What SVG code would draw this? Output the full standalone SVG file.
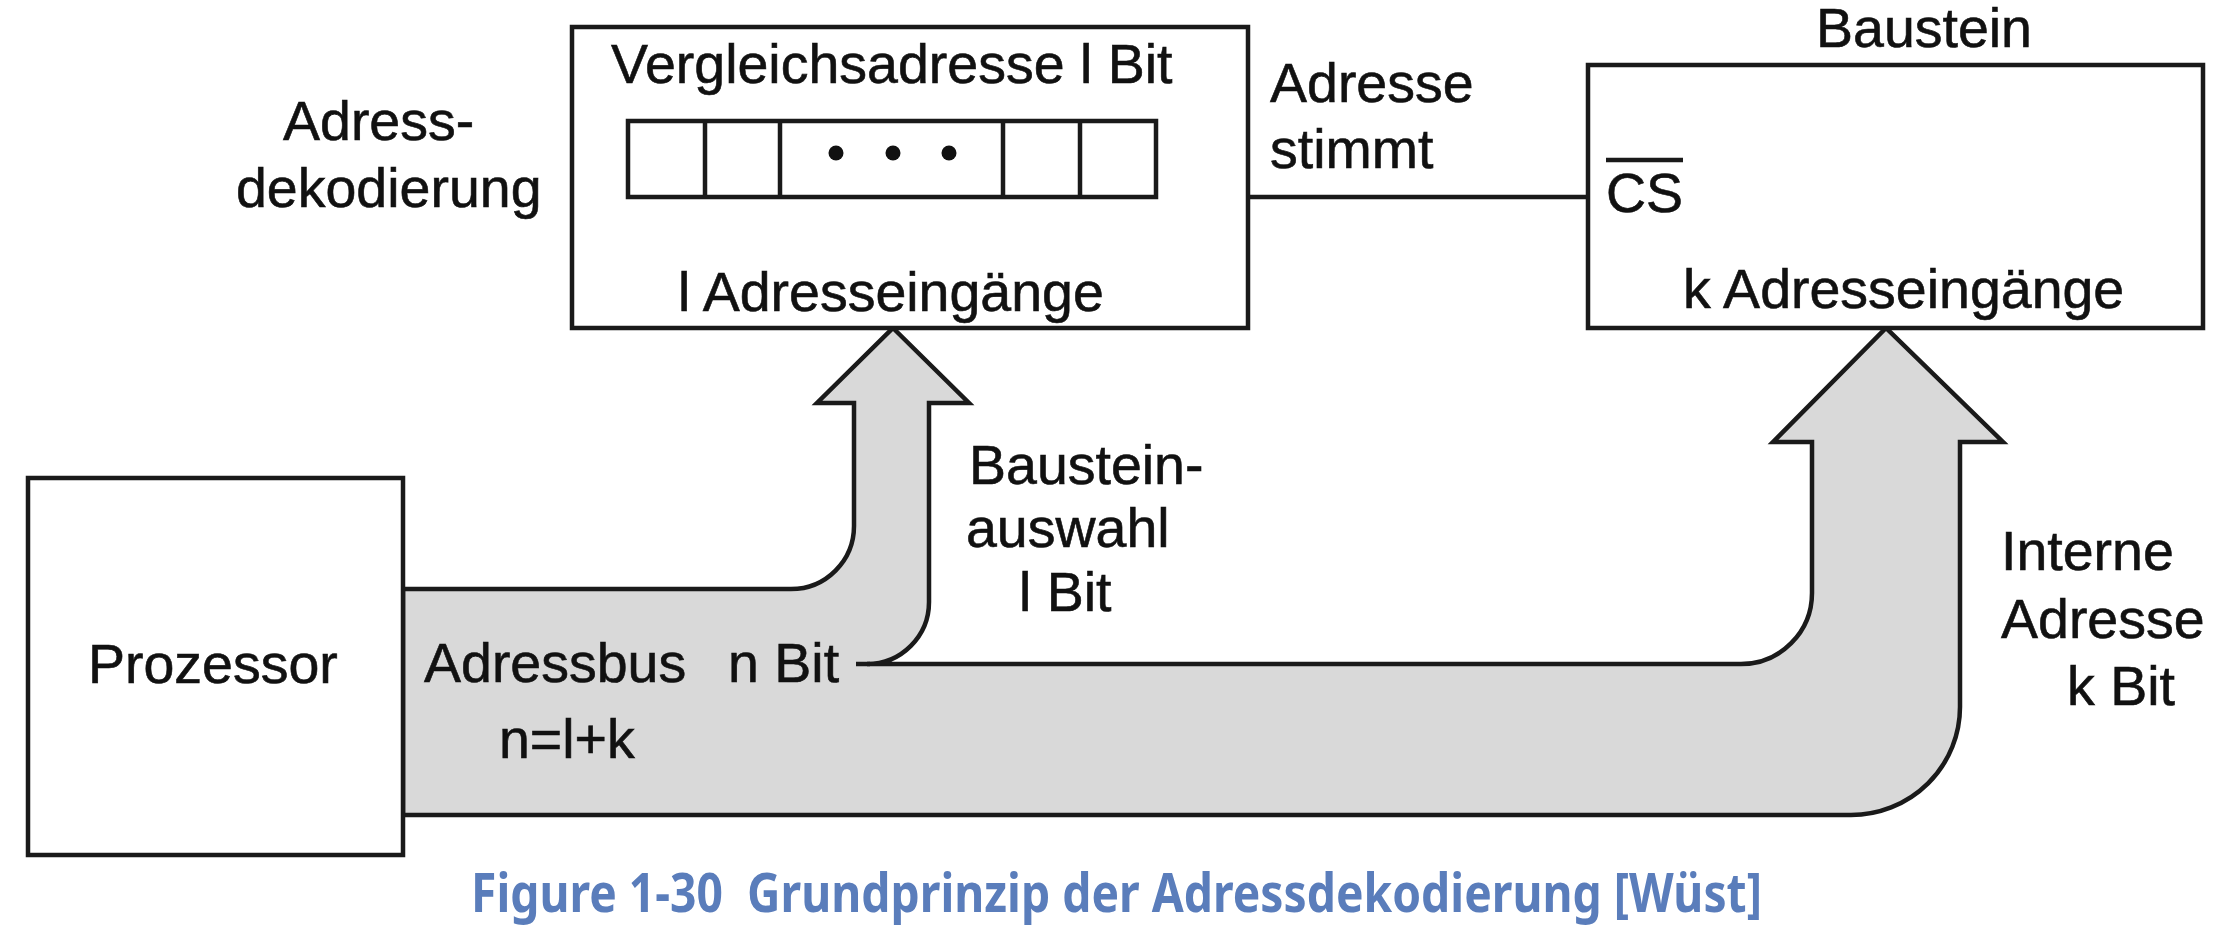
<svg xmlns="http://www.w3.org/2000/svg" width="2218" height="933" viewBox="0 0 2218 933">
<style>
.box{fill:#fff;stroke:#1a1a1a;stroke-width:4.5}
.ln{fill:none;stroke:#1a1a1a;stroke-width:4.5}
.t{font-family:"Liberation Sans",Arial,Helvetica,sans-serif;font-size:55.5px;fill:#111;stroke:#111;stroke-width:0.6}
.cap{font-family:"Noto Sans","Open Sans",sans-serif;font-weight:bold;font-size:53px;fill:#5A7DBB}
</style>
<rect width="2218" height="933" fill="#fff"/>
<g id="connectors">
<path d="M893,328 L969,403 L929,403 L929,602 A62 62 0 0 1 867,664 L1741,664 A71 71 0 0 0 1812,593 L1812,442 L1773,442 L1886,328 L2003,442 L1960,442 L1960,707 A109 108 0 0 1 1851,815 L403,815 L403,589 L791,589 A63 63 0 0 0 854,526 L854,403 L817,403 Z" fill="#d9d9d9" stroke="#1a1a1a" stroke-width="4.5" stroke-linejoin="miter"/>
<line class="ln" x1="856" y1="664" x2="870" y2="664"/>
<line class="ln" x1="1248" y1="197" x2="1588" y2="197"/>
</g>
<g id="decoder">
<rect class="box" x="572" y="27" width="676" height="301"/>
<rect class="box" x="628" y="121" width="528" height="76"/>
<line class="ln" x1="705" y1="121" x2="705" y2="197"/>
<line class="ln" x1="780" y1="121" x2="780" y2="197"/>
<line class="ln" x1="1003" y1="121" x2="1003" y2="197"/>
<line class="ln" x1="1080" y1="121" x2="1080" y2="197"/>
<circle cx="836" cy="153" r="7.5" fill="#111"/>
<circle cx="893" cy="153" r="7.5" fill="#111"/>
<circle cx="949" cy="153" r="7.5" fill="#111"/>
<text class="t" x="611" y="83">Vergleichsadresse l Bit</text>
<text class="t" x="678" y="311">l Adresseingänge</text>
</g>
<g id="label-adressdekodierung">
<text class="t" x="283" y="140">Adress-</text>
<text class="t" x="236" y="207">dekodierung</text>
</g>
<g id="label-adresse-stimmt">
<text class="t" x="1270" y="102">Adresse</text>
<text class="t" x="1270" y="168">stimmt</text>
</g>
<g id="baustein">
<text class="t" x="1816" y="47">Baustein</text>
<rect class="box" x="1588" y="65" width="615" height="263"/>
<line class="ln" x1="1606" y1="160" x2="1683" y2="160"/>
<text class="t" x="1606" y="212">CS</text>
<text class="t" x="1683" y="308">k Adresseingänge</text>
</g>
<g id="prozessor">
<rect class="box" x="28" y="478" width="375" height="377"/>
<text class="t" x="88" y="683">Prozessor</text>
</g>
<g id="label-bus">
<text class="t" x="424" y="682">Adressbus <tspan x="728">n Bit</tspan></text>
<text class="t" x="499" y="758">n=l+k</text>
</g>
<g id="label-bausteinauswahl">
<text class="t" x="969" y="484">Baustein-</text>
<text class="t" x="966" y="547">auswahl</text>
<text class="t" x="1019" y="611">l Bit</text>
</g>
<g id="label-interne">
<text class="t" x="2001" y="570">Interne</text>
<text class="t" x="2001" y="638">Adresse</text>
<text class="t" x="2067" y="705">k Bit</text>
</g>
<g id="caption">
<text class="cap" x="471" y="912" xml:space="preserve" textLength="1291" lengthAdjust="spacingAndGlyphs">Figure 1-30  Grundprinzip der Adressdekodierung [Wüst]</text>
</g>
</svg>
